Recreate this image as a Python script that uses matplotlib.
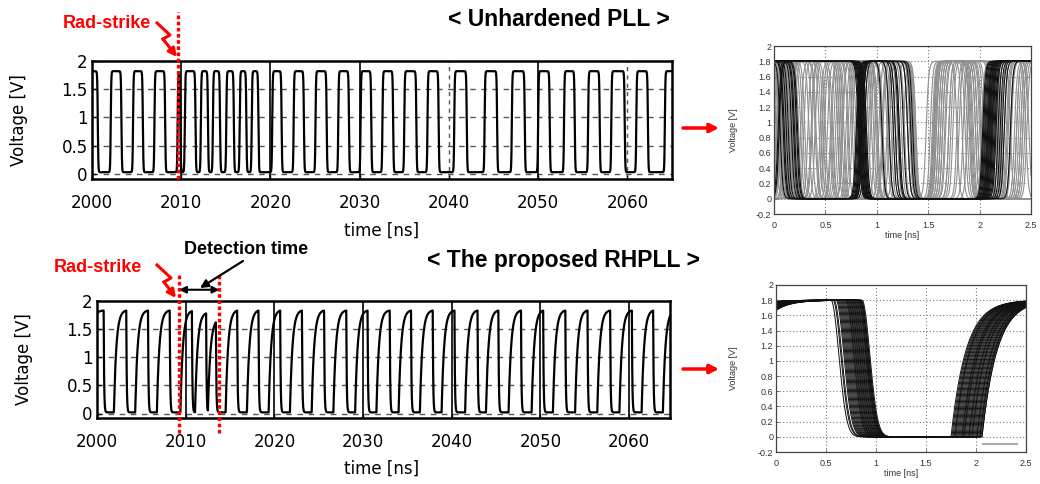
import numpy as np
import matplotlib
matplotlib.use('Agg')
import matplotlib.pyplot as plt
from matplotlib.lines import Line2D
from matplotlib.patches import FancyArrowPatch

plt.rcParams['font.family'] = ['Liberation Sans', 'DejaVu Sans']

# ---------------- data ----------------
# Unhardened PLL output: high intervals (rise, fall) in ns
unh_rise = [1999.0, 2002.1, 2004.6, 2007.0, 2009.6, 2010.4, 2012.2, 2013.55, 2015.05,
            2016.55, 2017.9, 2020.2, 2022.6, 2025.05, 2027.6, 2030.1, 2032.55, 2035.0,
            2037.6, 2040.6, 2044.0, 2047.05, 2050.0, 2052.9, 2055.6, 2058.2, 2061.0, 2064.2]
unh_fall = [2000.65, 2003.3, 2005.7, 2008.2, 2009.9, 2011.6, 2013.0, 2014.35, 2015.9,
            2017.3, 2018.65, 2021.25, 2023.75, 2026.3, 2028.8, 2031.3, 2033.75, 2036.35,
            2038.85, 2042.0, 2045.4, 2048.5, 2051.3, 2054.1, 2056.9, 2059.7, 2062.3, 2066.0]

# Proposed RHPLL output: pulse rise start, fall time (ns) and peak voltage (V)
rh_rise = [1999.0, 2001.9, 2004.3, 2006.75, 2009.4, 2011.05, 2012.5, 2014.5, 2016.9,
           2019.35, 2021.75, 2024.2, 2026.65, 2029.1, 2031.5, 2034.0, 2036.4, 2038.85,
           2041.5, 2043.85, 2046.4, 2049.0, 2051.4, 2053.9, 2056.4, 2058.9, 2061.4, 2063.8]
rh_fall = [2000.75, 2003.3, 2005.75, 2008.2, 2010.7, 2012.3, 2013.4, 2015.8, 2018.2,
           2020.65, 2023.1, 2025.6, 2028.1, 2030.5, 2033.0, 2035.4, 2037.85, 2040.3,
           2042.9, 2045.25, 2047.8, 2050.3, 2052.8, 2055.3, 2057.85, 2060.3, 2062.7, 2065.5]
rh_peak = [1.83, 1.83, 1.83, 1.83, 1.82, 1.78, 1.62, 1.83, 1.83,
           1.83, 1.83, 1.83, 1.83, 1.83, 1.83, 1.83, 1.83, 1.83,
           1.83, 1.83, 1.83, 1.83, 1.83, 1.83, 1.83, 1.83, 1.83, 1.83]

strike_unh = 2009.6
strike_rh = 2009.25
detect_end = 2013.8

# Eye diagram of unhardened PLL: high intervals per trace (ns)
eye_unh_gray = [
    [(-1, 0.04), (0.33, 0.72), (1.55, 1.93), (2.28, 3.5)],
    [(-1, 0.10), (0.40, 0.78), (1.60, 1.98), (2.36, 3.5)],
    [(-1, 0.16), (0.52, 0.97), (1.64, 1.90), (2.42, 3.5)],
    [(0.02, 0.44), (0.76, 1.18), (1.62, 2.04)],
    [(0.07, 0.37), (0.62, 1.04), (1.72, 2.12)],
    [(-1, 0.21), (0.56, 1.10), (1.52, 1.88), (2.24, 3.5)],
    [(0.12, 0.50), (0.90, 1.27), (1.67, 1.98), (2.31, 3.5)],
    [(-1, 0.07), (0.29, 0.68), (0.98, 1.34), (1.78, 2.20)],
    [(0.15, 0.57), (0.84, 1.24), (1.58, 2.01), (2.40, 3.5)],
    [(-1, 0.24), (0.67, 1.14), (1.54, 1.91), (2.27, 3.5)],
    [(0.05, 0.30), (0.60, 0.99), (1.56, 1.92), (2.18, 3.5)],
    [(-1, 0.13), (0.45, 0.86), (1.12, 1.38), (2.02, 2.45)],
    [(0.20, 0.62), (1.02, 1.38), (1.80, 2.22)],
    [(-1, 0.18), (0.37, 0.80), (1.10, 1.36), (1.88, 2.30)],
    [(0.09, 0.48), (0.72, 1.06), (1.60, 1.96), (2.16, 3.5)],
    [(-1, 0.02), (0.26, 0.64), (1.06, 1.32), (1.70, 2.10), (2.46, 3.5)],
    [(0.17, 0.55), (0.94, 1.30), (1.56, 1.96), (2.34, 3.5)],
    [(-1, 0.11), (0.49, 0.90), (1.26, 1.37), (2.08, 2.48)],
    [(0.03, 0.41), (0.80, 1.22), (1.62, 2.06), (2.44, 3.5)],
    [(-1, 0.20), (0.58, 1.01), (1.55, 1.83), (2.21, 3.5)],
    [(0.00, 0.26), (0.66, 0.95), (1.58, 1.86), (2.38, 3.5)],
    [(-1, 0.05), (0.47, 0.76), (1.16, 1.36), (1.74, 2.16)],
    [(-1, 0.08), (0.36, 0.66), (1.05, 1.30), (1.66, 2.00), (2.40, 3.5)],
    [(0.10, 0.40), (0.70, 1.12), (1.64, 1.94), (2.26, 3.5)],
    [(-1, 0.15), (0.55, 0.84), (1.20, 1.34), (1.84, 2.18)],
    [(0.18, 0.46), (0.92, 1.20), (1.70, 2.02), (2.36, 3.5)],
    [(-1, 0.28), (0.64, 0.92), (1.57, 1.78), (2.30, 3.5)],
    [(0.06, 0.34), (0.74, 1.00), (1.48, 1.90), (2.42, 3.5)],
]
eye_unh_black = [
    [(-1, 0.82), (2.03, 3.5)], [(-1, 0.83), (2.05, 3.5)], [(-1, 0.84), (2.06, 3.5)],
    [(-1, 0.84), (2.08, 3.5)], [(-1, 0.85), (2.09, 3.5)], [(-1, 0.86), (2.10, 3.5)],
    [(-1, 0.86), (2.11, 3.5)], [(-1, 0.87), (2.12, 3.5)], [(-1, 0.88), (2.13, 3.5)],
    [(-1, 0.88), (2.14, 3.5)], [(-1, 0.89), (2.07, 3.5)], [(-1, 0.90), (2.15, 3.5)],
    [(-1, 0.06), (0.80, 1.05), (2.04, 3.5)], [(-1, 0.14), (0.81, 1.16), (2.08, 3.5)],
    [(-1, 0.19), (0.82, 1.26), (2.12, 3.5)], [(-1, 0.09), (0.83, 1.33), (2.16, 3.5)],
    [(0.05, 0.22), (0.84, 1.12), (2.20, 3.5)], [(-1, 0.12), (0.85, 1.21), (2.24, 3.5)],
    [(-1, 0.10), (0.86, 1.30), (2.10, 3.5)], [(-1, 0.17), (0.84, 1.22), (2.18, 3.5)],
    [(-1, 0.23), (0.88, 1.35), (2.22, 3.5)], [(0.04, 0.20), (0.86, 1.18), (2.30, 3.5)],
]

# Eye diagram of proposed RHPLL: per-trace fall start and rise start (ns)
eye_rh_fall = [0.55, 0.57, 0.58, 0.60, 0.61, 0.62, 0.63, 0.64, 0.65, 0.66,
               0.67, 0.68, 0.69, 0.70, 0.70, 0.71, 0.72, 0.72, 0.73, 0.74,
               0.74, 0.75, 0.76, 0.76, 0.77, 0.78, 0.78, 0.79, 0.80, 0.80,
               0.81, 0.82, 0.82, 0.83, 0.83, 0.84, 0.84, 0.85, 0.85, 0.86]
eye_rh_rise = [1.92, 1.78, 2.01, 1.85, 1.96, 1.76, 2.04, 1.88, 1.81, 1.99,
               1.90, 2.06, 1.83, 1.94, 1.79, 2.02, 1.87, 1.97, 1.75, 2.05,
               1.86, 1.93, 1.80, 2.00, 1.89, 2.03, 1.84, 1.95, 1.77, 1.98,
               1.91, 2.06, 1.82, 1.96, 1.88, 2.04, 1.79, 1.93, 2.01, 1.86]
eye_period = 2.45

left_xticks = [2000, 2010, 2020, 2030, 2040, 2050, 2060]
left_yticks = [0, 0.5, 1, 1.5, 2]
left_yticklabels = ['0', '0.5', '1', '1.5', '2']
eye_xticks = [0, 0.5, 1, 1.5, 2, 2.5]
eye_xticklabels = ['0', '0.5', '1', '1.5', '2', '2.5']
eye_yticks = [-0.2, 0, 0.2, 0.4, 0.6, 0.8, 1, 1.2, 1.4, 1.6, 1.8, 2]
eye_yticklabels = ['-0.2', '0', '0.2', '0.4', '0.6', '0.8', '1', '1.2', '1.4', '1.6', '1.8', '2']


# ---------------- waveform helpers ----------------
def step(x):
    return 0.5 * (1 + np.tanh(x))


def square_wave(t, rises, falls, lo, hi, w):
    v = np.zeros_like(t)
    for r, f in zip(rises, falls):
        v += step((t - r) / w) - step((t - f) / w)
    return lo + (hi - lo) * v


def rc_pulses(t, rises, falls, peaks, lo=0.02, tau=0.28, tauf=0.05):
    v = np.full_like(t, lo)
    for r, f, p in zip(rises, falls, peaks):
        A = (p - lo) / (1 - np.exp(-(f - r) / tau))
        dr = np.clip(t - r, 0, None)
        df = np.clip(t - f, 0, None)
        seg = np.where(t < r, 0.0,
                       np.where(t < f, A * (1 - np.exp(-dr / tau)),
                                (p - lo) * np.exp(-df / tauf)))
        v += seg
    return v


W, H = 1040, 484
fig = plt.figure(figsize=(W / 100, H / 100), dpi=100)


def fx(px):
    return px / W


def fy(py):
    return 1 - py / H


LEFT_FONT = ['DejaVu Sans']


def style_left(ax, xmax, ymin):
    ax.set_xlim(2000, xmax)
    ax.set_ylim(ymin, 2)
    ax.set_xticks(left_xticks)
    ax.set_xticklabels([str(v) for v in left_xticks], family=LEFT_FONT)
    ax.set_yticks(left_yticks)
    ax.set_yticklabels(left_yticklabels, family=LEFT_FONT)
    ax.tick_params(direction='in', length=3, width=1, labelsize=12, pad=3)
    ax.tick_params(axis='x', pad=11)
    for s in ax.spines.values():
        s.set_linewidth(1.8)
    for yv in [0, 0.5, 1, 1.5]:
        ax.axhline(yv, color='#555555', lw=1.0, ls=(0, (4, 4)), zorder=1)
    ax.set_ylabel('Voltage [V]', fontsize=12, family=LEFT_FONT)
    ax.set_xlabel('time [ns]', fontsize=12, family=LEFT_FONT)


# ---- top-left: unhardened PLL ----
ax1 = fig.add_axes([fx(92), fy(179), fx(580), 118 / H])
t1 = np.linspace(2000, 2065, 20000)
v1 = square_wave(t1, unh_rise, unh_fall, 0.03, 1.82, 0.06)
style_left(ax1, 2065, -0.09)
for xv in left_xticks[1:]:
    if xv in (2040, 2060):
        ax1.axvline(xv, color='#555555', lw=1.0, ls=(0, (3, 3)), zorder=1)
    else:
        ax1.axvline(xv, color='black', lw=1.2, zorder=1)
ax1.plot(t1, v1, color='black', lw=1.6, zorder=3)
ax1.yaxis.set_label_coords(-0.11, 0.5)
ax1.xaxis.set_label_coords(0.50, -0.36)
ax1.plot([strike_unh, strike_unh], [-0.09, 2.87], color='red', lw=2.4,
         ls=(0, (1.1, 0.75)), clip_on=False, zorder=5)

# ---- bottom-left: proposed RHPLL ----
ax2 = fig.add_axes([fx(97), fy(418), fx(573), 117 / H])
t2 = np.linspace(2000, 2064.6, 20000)
v2 = rc_pulses(t2, rh_rise, rh_fall, rh_peak)
style_left(ax2, 2064.6, -0.08)
for xv in left_xticks[1:]:
    ax2.axvline(xv, color='black', lw=1.2, zorder=1)
ax2.plot(t2, v2, color='black', lw=1.6, zorder=3)
ax2.yaxis.set_label_coords(-0.112, 0.5)
ax2.xaxis.set_label_coords(0.497, -0.36)
for xs in (strike_rh, detect_end):
    ax2.plot([xs, xs], [-0.35, 2.46], color='red', lw=2.4,
             ls=(0, (1.1, 0.75)), clip_on=False, zorder=5)
ax2.annotate('', xy=(strike_rh, 2.2), xytext=(detect_end, 2.2),
             arrowprops=dict(arrowstyle='<|-|>', color='black', lw=1.5,
                             mutation_scale=10, shrinkA=0, shrinkB=0),
             annotation_clip=False)


def style_eye(ax, ylab_x):
    ax.set_xlim(0, 2.5)
    ax.set_ylim(-0.2, 2)
    ax.set_xticks(eye_xticks)
    ax.set_xticklabels(eye_xticklabels)
    ax.set_yticks(eye_yticks)
    ax.set_yticklabels(eye_yticklabels)
    ax.tick_params(direction='in', length=2, width=0.6, labelsize=6.5,
                   labelcolor='#333333', color='#555555', pad=2)
    ax.tick_params(axis='x', pad=5)
    for s in ax.spines.values():
        s.set_linewidth(0.9)
        s.set_color('#444444')
    ax.grid(True, color='#777777', lw=0.8, ls=(0, (1, 2)))
    ax.set_axisbelow(True)
    ax.set_xlabel('time [ns]', fontsize=6.5, color='#333333', labelpad=1)
    ax.set_ylabel('Voltage [V]', fontsize=6.5, color='#333333')
    ax.yaxis.set_label_coords(ylab_x, 0.5)


# ---- top-right: eye diagram unhardened ----
ax3 = fig.add_axes([fx(774), fy(214), fx(257), 168 / H])
te = np.linspace(0, 2.5, 1500)
for tr in eye_unh_gray:
    r = [a for a, b in tr]
    f = [b for a, b in tr]
    ax3.plot(te, square_wave(te, r, f, 0.0, 1.8, 0.025), color='#8f8f8f', lw=0.8)
for tr in eye_unh_black:
    r = [a for a, b in tr]
    f = [b for a, b in tr]
    ax3.plot(te, square_wave(te, r, f, 0.0, 1.8, 0.025), color='#111111', lw=0.8)
style_eye(ax3, -0.14)

# ---- bottom-right: eye diagram RHPLL ----
ax4 = fig.add_axes([fx(776), fy(452), fx(250), 167 / H])
tau_r, tau_f = 0.15, 0.11
for tf, tr in zip(eye_rh_fall, eye_rh_rise):
    prev = tr - eye_period
    before = 1.8 * (1 - np.exp(-np.clip(te - prev, 0, None) / tau_r))
    v_tf = 1.8 * (1 - np.exp(-(tf - prev) / tau_r))
    mid = v_tf * np.exp(-((np.clip(te - tf, 0, None)) / tau_f) ** 2)
    after = 1.8 * (1 - np.exp(-np.clip(te - tr, 0, None) / tau_r))
    v = np.where(te < tf, before, np.where(te < tr, mid, after))
    ax4.plot(te, v, color='#111111', lw=0.7)
style_eye(ax4, -0.152)
ax4.legend(handles=[Line2D([], [], color='#aaaaaa', lw=1.5)], labels=[''],
           loc='lower right', frameon=False, handlelength=2.4, handletextpad=0,
           borderaxespad=0.0, bbox_to_anchor=(0.985, -0.035))

# ---------------- annotations ----------------
fig.text(fx(559), fy(19), '< Unhardened PLL >', ha='center', va='center',
         fontsize=16.5, fontweight='bold')
fig.text(fx(563), fy(260), '< The proposed RHPLL >', ha='center', va='center',
         fontsize=16.5, fontweight='bold')
fig.text(fx(107), fy(24), 'Rad-strike', ha='center', va='center',
         fontsize=13, fontweight='bold', color='red')
fig.text(fx(98), fy(267), 'Rad-strike', ha='center', va='center',
         fontsize=13, fontweight='bold', color='red')
fig.text(fx(246), fy(249), 'Detection time', ha='center', va='center',
         fontsize=13, fontweight='bold', color='black')


def zigzag(pts):
    xs = [fx(p[0]) for p in pts[:-1]]
    ys = [fy(p[1]) for p in pts[:-1]]
    fig.add_artist(Line2D(xs, ys, color='red', lw=2.2, transform=fig.transFigure))
    fig.add_artist(FancyArrowPatch((fx(pts[-2][0]), fy(pts[-2][1])),
                                   (fx(pts[-1][0]), fy(pts[-1][1])),
                                   transform=fig.transFigure, arrowstyle='-|>',
                                   mutation_scale=12, color='red', lw=2.2,
                                   shrinkA=0, shrinkB=0))


zigzag([(157, 23), (170, 35), (163, 39), (177, 57)])
zigzag([(157, 265), (171, 278), (164, 282), (176, 298)])

fig.add_artist(FancyArrowPatch((fx(243), fy(261)), (fx(200), fy(288)),
                               transform=fig.transFigure, arrowstyle='-|>',
                               mutation_scale=12, color='black', lw=1.6,
                               shrinkA=0, shrinkB=0))

for yy in (128, 369):
    fig.add_artist(FancyArrowPatch((fx(683), fy(yy)), (fx(719), fy(yy)),
                                   transform=fig.transFigure, arrowstyle='-|>',
                                   mutation_scale=13, color='red', lw=2.5,
                                   shrinkA=0, shrinkB=0))

fig.savefig('out.png', dpi=100, facecolor='white')
